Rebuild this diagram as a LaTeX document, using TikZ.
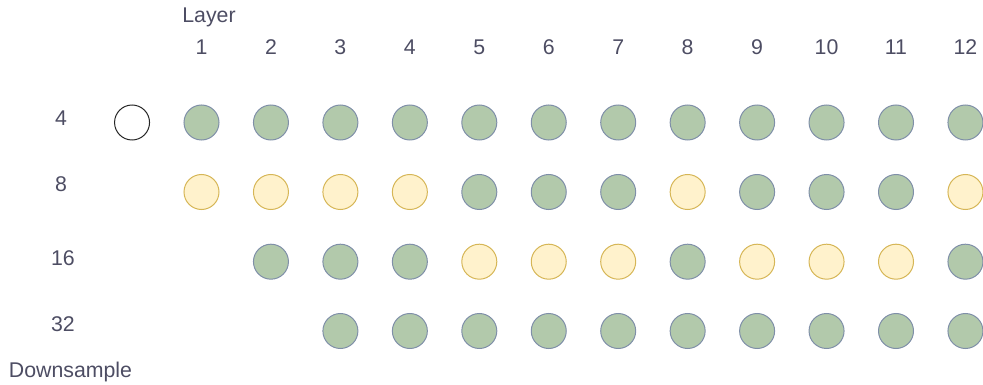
\documentclass[tikz,border=0pt]{standalone}
\usepackage{fontspec}
\setmainfont{Liberation Sans}
\definecolor{txt}{HTML}{4D4D63}
\definecolor{gfill}{HTML}{B2C9AB}
\definecolor{gdraw}{HTML}{7F8FA8}
\definecolor{yfill}{HTML}{FFF2CC}
\definecolor{ydraw}{HTML}{D6B656}
\begin{document}
\begin{tikzpicture}[x=1pt,y=-1pt,
  lbl/.style={text=txt,font=\fontsize{21.3}{25}\selectfont,inner sep=0pt,anchor=base},
  dot/.style={circle,minimum size=35pt,inner sep=0pt,line width=1pt},
  gdot/.style={dot,fill=gfill,draw=gdraw},
  ydot/.style={dot,fill=yfill,draw=ydraw},
  wdot/.style={dot,fill=white,draw=black!85}]
\useasboundingbox (0,0) rectangle (983,385);
\def\cx#1{201.5+69.45*(#1-1)}
\node[lbl] (layer) at (209,23) {Layer};
\foreach \i in {1,...,12} {
  \node[lbl] (h\i) at ({\cx{\i}},55) {\i};
}
\node[lbl] (r4) at (61,126) {4};
\node[lbl] (r8) at (61,191) {8};
\node[lbl] (r16) at (63,265) {16};
\node[lbl] (r32) at (63,331) {32};
\node[lbl] (down) at (70.5,377) {Downsample};
% row 4
\node[wdot] (a0) at ({\cx{0}},122.5) {};
\foreach \i in {1,...,12} {
  \node[gdot] (a\i) at ({\cx{\i}},122.5) {};
}
% row 8
\foreach \i/\s in {1/ydot,2/ydot,3/ydot,4/ydot,5/gdot,6/gdot,7/gdot,8/ydot,9/gdot,10/gdot,11/gdot,12/ydot} {
  \node[\s] (b\i) at ({\cx{\i}},192) {};
}
% row 16
\foreach \i/\s in {2/gdot,3/gdot,4/gdot,5/ydot,6/ydot,7/ydot,8/gdot,9/ydot,10/ydot,11/ydot,12/gdot} {
  \node[\s] (c\i) at ({\cx{\i}},261.7) {};
}
% row 32
\foreach \i in {3,...,12} {
  \node[gdot] (d\i) at ({\cx{\i}},331) {};
}
\end{tikzpicture}
\end{document}
